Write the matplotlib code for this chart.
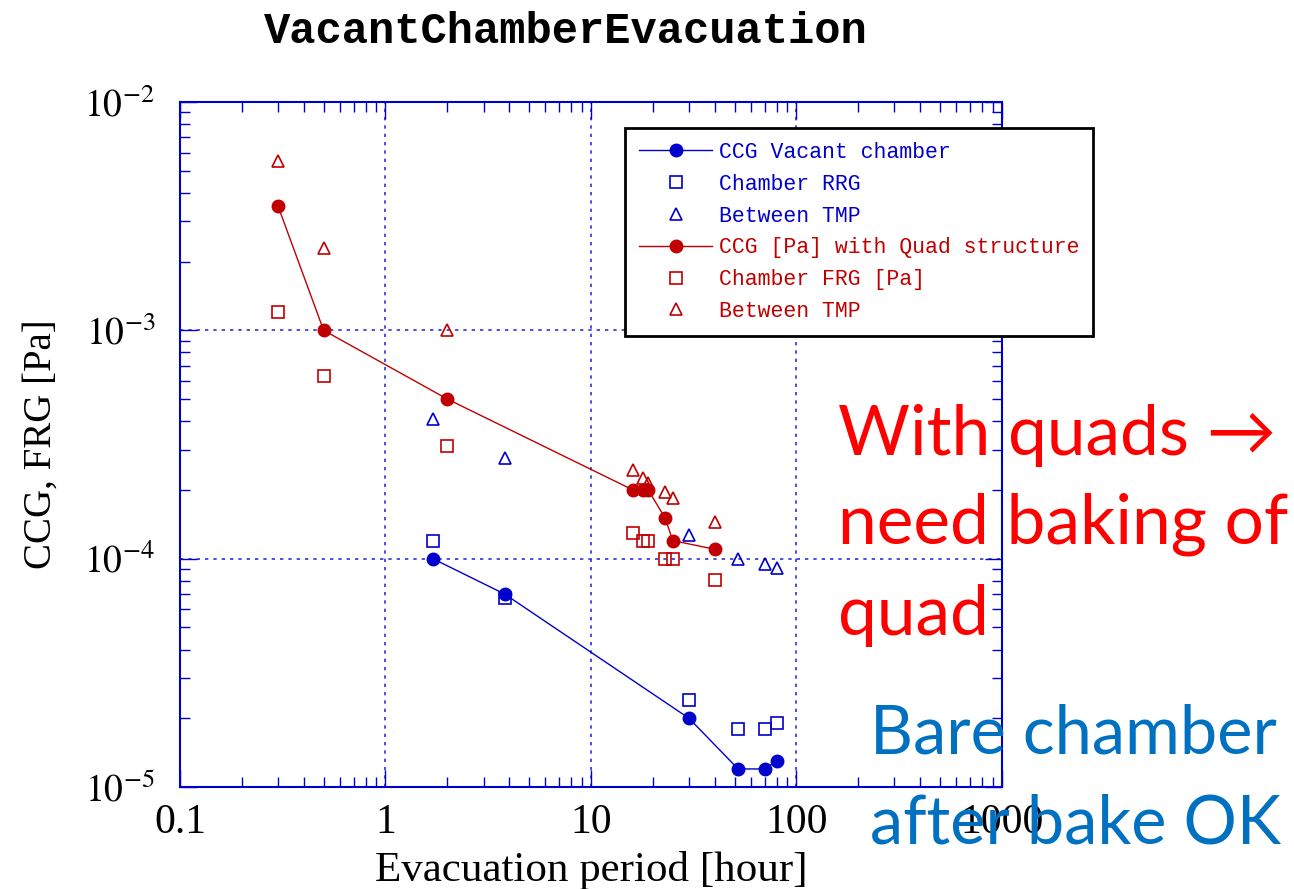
import math
import matplotlib
matplotlib.use("Agg")
import matplotlib.pyplot as plt
from matplotlib.ticker import FixedLocator, FuncFormatter, LogLocator, NullFormatter

BLUE = "#0000CC"
RED = "#C00000"

# vacant (baked) chamber
hours_vac = [1.7, 3.8, 30, 52, 70, 80]
ccg_vac = [1.0e-4, 7.0e-5, 2.0e-5, 1.2e-5, 1.2e-5, 1.3e-5]
rrg_vac = [1.2e-4, 6.7e-5, 2.4e-5, 1.8e-5, 1.8e-5, 1.9e-5]
tmp_vac = [4.1e-4, 2.75e-4, 1.27e-4, 1.0e-4, 9.5e-5, 9.1e-5]

# chamber with quad structure
hours_quad = [0.3, 0.5, 2, 16, 18, 19, 23, 25, 40]
ccg_quad = [3.5e-3, 1.0e-3, 5.0e-4, 2.0e-4, 2.0e-4, 2.0e-4, 1.5e-4, 1.2e-4, 1.1e-4]
frg_quad = [1.2e-3, 6.3e-4, 3.1e-4, 1.3e-4, 1.2e-4, 1.2e-4, 1.0e-4, 1.0e-4, 8.1e-5]
tmp_quad = [5.5e-3, 2.3e-3, 1.0e-3, 2.45e-4, 2.25e-4, 2.15e-4, 1.95e-4, 1.85e-4, 1.45e-4]

xticks = [0.1, 1, 10, 100, 1000]
xticklabels = ["0.1", "1", "10", "100", "1000"]

quad_note = ["With quads \u2192", "need baking of", "quad"]
bare_note = ["Bare chamber", "after bake OK"]

plt.rcParams["mathtext.fontset"] = "stix"
plt.rcParams["font.family"] = "Liberation Serif"

fig = plt.figure(figsize=(12.94, 8.89), dpi=100)
ax = fig.add_axes([0.1391, 0.1147, 0.6352, 0.7706])

ax.plot(hours_vac, ccg_vac, "-o", color=BLUE, lw=1.0, ms=9, label="CCG Vacant chamber")
ax.plot(hours_vac, rrg_vac, "s", color=BLUE, mfc="none", mew=1.2, ms=9, ls="none", label="Chamber RRG")
ax.plot(hours_vac, tmp_vac, "^", color=BLUE, mfc="none", mew=1.2, ms=9, ls="none", label="Between TMP")
ax.plot(hours_quad, ccg_quad, "-o", color=RED, lw=1.0, ms=9, label="CCG [Pa] with Quad structure")
ax.plot(hours_quad, frg_quad, "s", color=RED, mfc="none", mew=1.2, ms=9, ls="none", label="Chamber FRG [Pa]")
ax.plot(hours_quad, tmp_quad, "^", color=RED, mfc="none", mew=1.2, ms=9, ls="none", label="Between TMP")

ax.set_xscale("log")
ax.set_yscale("log")
ax.set_xlim(0.1, 1000)
ax.set_ylim(1e-5, 1e-2)

ax.xaxis.set_major_locator(FixedLocator(xticks))
ax.xaxis.set_major_formatter(FuncFormatter(lambda v, p: xticklabels[xticks.index(v)] if v in xticks else ""))
ax.xaxis.set_minor_locator(LogLocator(base=10, subs=range(2, 10)))
ax.xaxis.set_minor_formatter(NullFormatter())
ax.yaxis.set_major_locator(FixedLocator([1e-5, 1e-4, 1e-3, 1e-2]))
ax.yaxis.set_major_formatter(FuncFormatter(lambda v, p: r"$10^{%d}$" % round(math.log10(v))))
ax.yaxis.set_minor_locator(LogLocator(base=10, subs=range(2, 10)))
ax.yaxis.set_minor_formatter(NullFormatter())

ax.grid(True, which="major", color="#3030E0", ls=(0, (2, 3)), lw=1.2)
for s in ax.spines.values():
    s.set_color(BLUE)
    s.set_linewidth(1.5)
ax.tick_params(which="both", direction="in", top=True, right=True, colors=BLUE,
               labelcolor="black")
ax.tick_params(which="major", length=12, width=1.0)
ax.tick_params(which="minor", length=7, width=1.0)
ax.tick_params(axis="x", which="major", labelsize=30, pad=12)
ax.tick_params(axis="y", which="major", labelsize=27, pad=18)

ax.set_xlabel("Evacuation period [hour]", fontsize=31, labelpad=6)
ax.set_ylabel("CCG, FRG [Pa]", fontsize=28, labelpad=18)

fig.text(0.4375, 0.965, "VacantChamberEvacuation", fontsize=31.5, family="Liberation Mono",
         fontweight="bold", ha="center", va="center")

leg = ax.legend(loc="upper left", bbox_to_anchor=(0.483, 0.856), bbox_transform=fig.transFigure,
                borderaxespad=0, fancybox=False, framealpha=1, edgecolor="black",
                prop={"family": "Liberation Mono", "size": 15.5}, handlelength=3.4,
                handletextpad=0.3, labelspacing=0.5, borderpad=0.65)
leg.get_frame().set_linewidth(2)
for txt, line in zip(leg.get_texts(), leg.get_lines()):
    txt.set_color(line.get_color())

# side notes, one text per line
for line, base in zip(quad_note, [455, 544, 635]):
    fig.text(838 / 1294, 1 - base / 889, line, color="#FF0000", fontsize=50,
             family=["Lato", "DejaVu Sans"], ha="left", va="baseline")
for line, base in zip(bare_note, [753, 843]):
    fig.text(870 / 1294, 1 - base / 889, line, color="#0070C0", fontsize=48,
             family=["Lato", "DejaVu Sans"], ha="left", va="baseline")

fig.savefig("out.png", dpi=100)
